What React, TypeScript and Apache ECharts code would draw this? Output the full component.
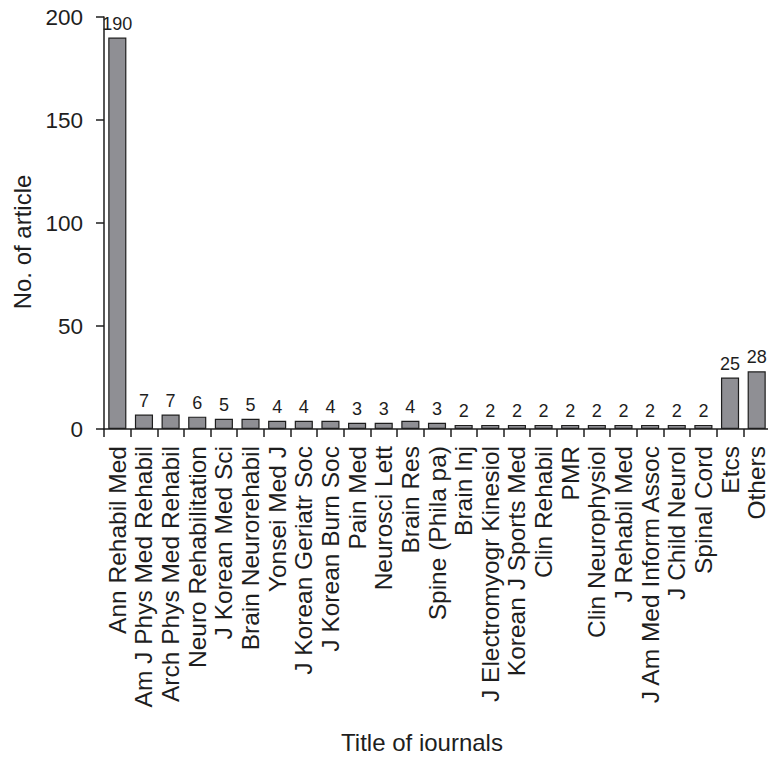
import React, { useEffect, useRef } from "react";
import * as echarts from "echarts";

const categories = [
  "Ann Rehabil Med",
  "Am J Phys Med Rehabil",
  "Arch Phys Med Rehabil",
  "Neuro Rehabilitation",
  "J Korean Med Sci",
  "Brain Neurorehabil",
  "Yonsei Med J",
  "J Korean Geriatr Soc",
  "J Korean Burn Soc",
  "Pain Med",
  "Neurosci Lett",
  "Brain Res",
  "Spine (Phila pa)",
  "Brain Inj",
  "J Electromyogr Kinesiol",
  "Korean J Sports Med",
  "Clin Rehabil",
  "PMR",
  "Clin Neurophysiol",
  "J Rehabil Med",
  "J Am Med Inform Assoc",
  "J Child Neurol",
  "Spinal Cord",
  "Etcs",
  "Others",
];
const values = [190, 7, 7, 6, 5, 5, 4, 4, 4, 3, 3, 4, 3, 2, 2, 2, 2, 2, 2, 2, 2, 2, 2, 25, 28];
const yTicks = [0, 50, 100, 150, 200];
const xTitle = "Title of iournals";
const yTitle = "No. of article";

const FONT = "'Liberation Sans', Arial, sans-serif";
const INK = "#1e1e1e";

export default function App() {
  const ref = useRef<HTMLDivElement>(null);
  useEffect(() => {
    const chart = echarts.init(ref.current!, null, { renderer: "svg" });
    chart.setOption({
      animation: false,
      backgroundColor: "#ffffff",
      grid: { left: 104, right: 6, top: 17, bottom: 331, containLabel: false },
      graphic: [
        {
          type: "text",
          x: 22,
          y: 242,
          rotation: Math.PI / 2,
          style: {
            text: yTitle,
            fontFamily: FONT,
            fontSize: 24,
            fill: INK,
            align: "center",
            verticalAlign: "middle",
          },
        },
        {
          type: "text",
          x: 422,
          y: 742,
          style: {
            text: xTitle,
            fontFamily: FONT,
            fontSize: 24,
            fill: INK,
            align: "center",
            verticalAlign: "middle",
          },
        },
      ],
      xAxis: {
        type: "category",
        data: categories,
        axisLine: { show: true, lineStyle: { color: INK, width: 1.5 } },
        axisTick: { show: true, alignWithLabel: false, length: 8, lineStyle: { color: INK, width: 1.5 } },
        axisLabel: {
          rotate: 90,
          interval: 0,
          fontFamily: FONT,
          fontSize: 24.5,
          color: INK,
          margin: 17,
        },
      },
      yAxis: {
        type: "value",
        min: yTicks[0],
        max: yTicks[yTicks.length - 1],
        interval: 50,
        axisLine: { show: true, lineStyle: { color: INK, width: 1.5 } },
        axisTick: { show: true, length: 8, lineStyle: { color: INK, width: 1.5 } },
        splitLine: { show: false },
        axisLabel: { fontFamily: FONT, fontSize: 22.5, color: INK, margin: 21 },
      },
      series: [
        {
          type: "bar",
          data: values,
          barWidth: "68%",
          itemStyle: { color: "#8f8f94", borderColor: INK, borderWidth: 1.2 },
          label: {
            show: true,
            position: "top",
            distance: 5,
            fontFamily: FONT,
            fontSize: 18,
            color: INK,
          },
        },
      ],
    });
    return () => chart.dispose();
  }, []);
  return <div ref={ref} style={{ width: 776, height: 760, marginLeft: -8, marginTop: -8 }} />;
}
